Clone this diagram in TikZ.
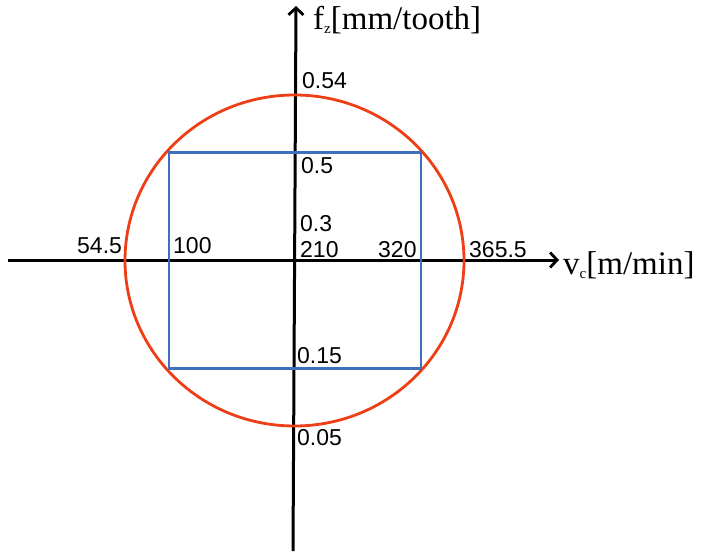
\documentclass[tikz,border=0pt]{standalone}
\usepackage{fontspec}
\setmainfont{Liberation Serif}
\newfontfamily\numfont{Liberation Sans}
\usetikzlibrary{arrows.meta}
\definecolor{circred}{RGB}{238,62,22}
\definecolor{boxblue}{RGB}{62,112,190}
\newcommand{\mysub}[1]{\raisebox{-4pt}{\fontsize{15}{15}\selectfont #1}}
\tikzset{
  axisline/.style={line width=3pt, black, -{Straight Barb[length=7pt,width=15pt,line width=2.8pt]}},
  num/.style={font=\numfont\fontsize{23}{23}\selectfont, inner sep=0pt, anchor=base west},
  axlab/.style={font=\fontsize{33}{33}\selectfont, inner sep=0pt, anchor=base west},
}
\begin{document}
\begin{tikzpicture}[x=1pt,y=-1pt]
\useasboundingbox (0,0) rectangle (710,557);
% axes
\coordinate (vb) at (293,551);
\coordinate (vt) at (296,6);
\coordinate (hl) at (8,260);
\coordinate (hr) at (559,260);
\draw[axisline] (vb) -- (vt);
\draw[axisline] (hl) -- (hr);
% circle
\draw[circred, line width=2.8pt] (294.5,260.5) ellipse [x radius=169.5, y radius=165.5];
% square
\draw[boxblue, line width=2.8pt] (169,152.5) rectangle (421,368.5);
% axis labels
\node[axlab] (fz) at (313,29) {f\mysub{z}[mm/tooth]};
\node[axlab] (vc) at (563,274) {v\mysub{c}[m/min]};
% numbers
\node[num] (n054) at (302,88) {0.54};
\node[num] (n05) at (301,173) {0.5};
\node[num] (n03) at (300,231) {0.3};
\node[num] (n210) at (300,257) {210};
\node[num] (n320) at (378,257) {320};
\node[num] (n3655) at (469,257) {365.5};
\node[num] (n545) at (77,253) {54.5};
\node[num] (n100) at (173,253) {100};
\node[num] (n015) at (297,363) {0.15};
\node[num] (n005) at (297,445) {0.05};
\end{tikzpicture}
\end{document}
